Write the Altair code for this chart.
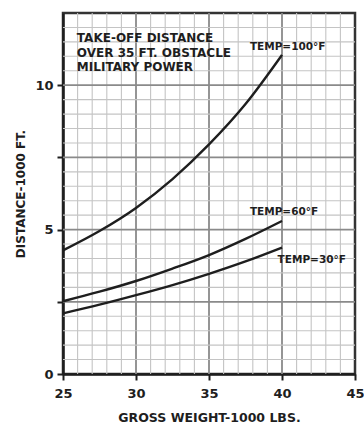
import altair as alt
import numpy as np
import pandas as pd

# Gross weight (1000 lb) and take-off distance (1000 ft) for each temperature
weight = [25, 27.5, 30, 32.5, 35, 37.5, 40]
dist_100f = [4.28, 4.95, 5.75, 6.75, 7.95, 9.35, 11.05]
dist_60f = [2.52, 2.85, 3.22, 3.65, 4.12, 4.68, 5.3]
dist_30f = [2.1, 2.4, 2.73, 3.08, 3.47, 3.9, 4.38]

series_names = ["TEMP=100°F", "TEMP=60°F", "TEMP=30°F"]

label_text = ["TEMP=100°F", "TEMP=60°F", "TEMP=30°F"]
label_x = [37.8, 37.8, 39.7]
label_y = [11.32, 5.61, 3.95]

note_lines = ["TAKE-OFF DISTANCE", "OVER 35 FT. OBSTACLE", "MILITARY POWER"]
note_x = [25.95, 25.95, 25.95]
note_y = [11.63, 11.12, 10.63]

x_ticks = [25, 30, 35, 40, 45]
y_ticks = [0, 2.5, 5, 7.5, 10]

FONT = "DejaVu Sans"
INK = "#1e1e1e"

curves = pd.concat(
    [
        pd.DataFrame({"weight": weight, "dist": d, "series": s})
        for d, s in zip([dist_100f, dist_60f, dist_30f], series_names)
    ],
    ignore_index=True,
)

x_scale = alt.Scale(domain=[25, 45], nice=False, zero=False)
y_scale = alt.Scale(domain=[0, 12.5], nice=False)

x_axis = alt.Axis(
    values=x_ticks,
    title="GROSS WEIGHT-1000 LBS.",
    grid=False,
    tickSize=6,
    tickWidth=2,
    tickColor=INK,
    domainColor=INK,
    domainWidth=2.5,
    labelFont=FONT,
    labelFontSize=13,
    labelFontWeight="bold",
    labelColor=INK,
    labelPadding=7,
    labelFlush=False,
    titleFont=FONT,
    titleFontSize=12.5,
    titleFontWeight="bold",
    titleColor=INK,
    titlePadding=11,
)
y_axis = alt.Axis(
    values=y_ticks,
    labelExpr="datum.value % 5 == 0 ? datum.label : ''",
    title="DISTANCE-1000 FT.",
    grid=False,
    tickSize=6,
    tickWidth=2,
    tickColor=INK,
    domainColor=INK,
    domainWidth=2.5,
    labelFont=FONT,
    labelFontSize=13,
    labelFontWeight="bold",
    labelColor=INK,
    labelPadding=4,
    labelFlush=False,
    titleFont=FONT,
    titleFontSize=12,
    titleFontWeight="bold",
    titleColor=INK,
    titlePadding=7,
)


def xq(field):
    return alt.X(field, type="quantitative", scale=x_scale, axis=x_axis)


def yq(field):
    return alt.Y(field, type="quantitative", scale=y_scale, axis=y_axis)


# graph-paper grid: fine lines every 1 (x) / 0.5 (y), heavier every 5 / 2.5
vx = pd.DataFrame({"v": np.arange(26, 45, 1.0)})
vx["major"] = vx["v"] % 5 == 0
hy = pd.DataFrame({"v": np.arange(0.5, 12.5, 0.5)})
hy["major"] = hy["v"] % 2.5 == 0

grid_color = alt.condition("datum.major", alt.value("#8a8a8a"), alt.value("#c4c4c4"))
grid_width = alt.condition("datum.major", alt.value(1.8), alt.value(1.1))

v_grid = alt.Chart(vx).mark_rule().encode(
    x=xq("v"), color=grid_color, strokeWidth=grid_width
)
h_grid = alt.Chart(hy).mark_rule().encode(
    y=yq("v"), color=grid_color, strokeWidth=grid_width
)

lines = alt.Chart(curves).mark_line(
    interpolate="monotone", color=INK, strokeWidth=2.4
).encode(x=xq("weight"), y=yq("dist"), detail="series:N")

labels = alt.Chart(
    pd.DataFrame({"t": label_text, "x": label_x, "y": label_y})
).mark_text(
    align="left", baseline="middle", font=FONT, fontSize=10.5, fontWeight="bold", color=INK
).encode(x=xq("x"), y=yq("y"), text="t:N")

note = alt.Chart(
    pd.DataFrame({"t": note_lines, "x": note_x, "y": note_y})
).mark_text(
    align="left", baseline="middle", font=FONT, fontSize=12, fontWeight="bold", color=INK
).encode(x=xq("x"), y=yq("y"), text="t:N")

chart = (
    alt.layer(v_grid, h_grid, lines, labels, note)
    .properties(
        width=292,
        height=361,
        autosize=alt.AutoSizeParams(type="none"),
        padding={"left": 63, "top": 13, "right": 9, "bottom": 55},
        background="white",
    )
    .configure_view(stroke="#333333", strokeWidth=2.5)
)

chart.save("out.html", embed_options={"renderer": "svg", "actions": False})
